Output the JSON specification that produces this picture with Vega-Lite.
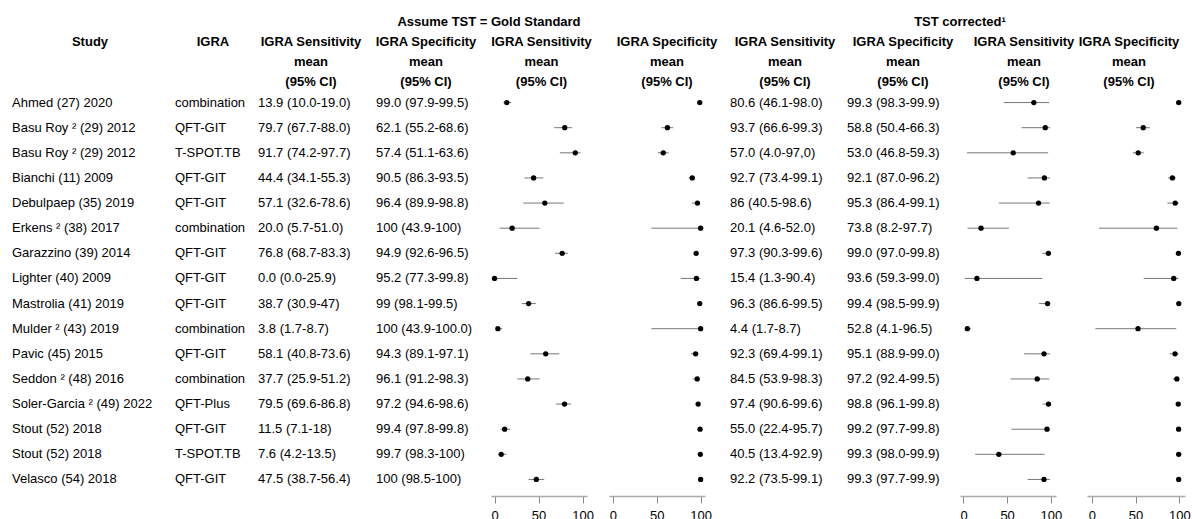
{
  "$schema": "https://vega.github.io/schema/vega-lite/v6.json",
  "background": "white",
  "padding": {"left": 12, "top": 16, "right": 0, "bottom": 0},
  "config": {
    "font": "Liberation Sans",
    "view": {"stroke": null},
    "title": {"fontSize": 13, "fontWeight": "bold", "color": "#000", "lineHeight": 20, "offset": 1, "anchor": "middle", "frame": "group", "font": "Liberation Sans"},
    "text": {"fontSize": 13, "color": "#000", "font": "Liberation Sans"},
    "axis": {"grid": false, "domainColor": "#aaa", "domainWidth": 1.5, "tickColor": "#888", "tickSize": 7, "labelFontSize": 13, "labelColor": "#000", "labelPadding": 6, "labelFlush": false, "labelFont": "Liberation Sans"}
  },
  "data": {"values": [
    {"r": 1, "study": "Ahmed (27) 2020", "igra": "combination", "s1t": "13.9 (10.0-19.0)", "p1t": "99.0 (97.9-99.5)", "s2t": "80.6 (46.1-98.0)", "p2t": "99.3 (98.3-99.9)", "s1": 13.9, "s1l": 10.0, "s1u": 19.0, "p1": 99.0, "p1l": 97.9, "p1u": 99.5, "s2": 80.6, "s2l": 46.1, "s2u": 98.0, "p2": 99.3, "p2l": 98.3, "p2u": 99.9},
    {"r": 2, "study": "Basu Roy ² (29) 2012", "igra": "QFT-GIT", "s1t": "79.7 (67.7-88.0)", "p1t": "62.1 (55.2-68.6)", "s2t": "93.7 (66.6-99.3)", "p2t": "58.8 (50.4-66.3)", "s1": 79.7, "s1l": 67.7, "s1u": 88.0, "p1": 62.1, "p1l": 55.2, "p1u": 68.6, "s2": 93.7, "s2l": 66.6, "s2u": 99.3, "p2": 58.8, "p2l": 50.4, "p2u": 66.3},
    {"r": 3, "study": "Basu Roy ² (29) 2012", "igra": "T-SPOT.TB", "s1t": "91.7 (74.2-97.7)", "p1t": "57.4 (51.1-63.6)", "s2t": "57.0 (4.0-97,0)", "p2t": "53.0 (46.8-59.3)", "s1": 91.7, "s1l": 74.2, "s1u": 97.7, "p1": 57.4, "p1l": 51.1, "p1u": 63.6, "s2": 57.0, "s2l": 4.0, "s2u": 97.0, "p2": 53.0, "p2l": 46.8, "p2u": 59.3},
    {"r": 4, "study": "Bianchi (11) 2009", "igra": "QFT-GIT", "s1t": "44.4 (34.1-55.3)", "p1t": "90.5 (86.3-93.5)", "s2t": "92.7 (73.4-99.1)", "p2t": "92.1 (87.0-96.2)", "s1": 44.4, "s1l": 34.1, "s1u": 55.3, "p1": 90.5, "p1l": 86.3, "p1u": 93.5, "s2": 92.7, "s2l": 73.4, "s2u": 99.1, "p2": 92.1, "p2l": 87.0, "p2u": 96.2},
    {"r": 5, "study": "Debulpaep (35) 2019", "igra": "QFT-GIT", "s1t": "57.1 (32.6-78.6)", "p1t": "96.4 (89.9-98.8)", "s2t": "86 (40.5-98.6)", "p2t": "95.3 (86.4-99.1)", "s1": 57.1, "s1l": 32.6, "s1u": 78.6, "p1": 96.4, "p1l": 89.9, "p1u": 98.8, "s2": 86.0, "s2l": 40.5, "s2u": 98.6, "p2": 95.3, "p2l": 86.4, "p2u": 99.1},
    {"r": 6, "study": "Erkens ² (38) 2017", "igra": "combination", "s1t": "20.0 (5.7-51.0)", "p1t": "100 (43.9-100)", "s2t": "20.1 (4.6-52.0)", "p2t": "73.8 (8.2-97.7)", "s1": 20.0, "s1l": 5.7, "s1u": 51.0, "p1": 100, "p1l": 43.9, "p1u": 100, "s2": 20.1, "s2l": 4.6, "s2u": 52.0, "p2": 73.8, "p2l": 8.2, "p2u": 97.7},
    {"r": 7, "study": "Garazzino (39) 2014", "igra": "QFT-GIT", "s1t": "76.8 (68.7-83.3)", "p1t": "94.9 (92.6-96.5)", "s2t": "97.3 (90.3-99.6)", "p2t": "99.0 (97.0-99.8)", "s1": 76.8, "s1l": 68.7, "s1u": 83.3, "p1": 94.9, "p1l": 92.6, "p1u": 96.5, "s2": 97.3, "s2l": 90.3, "s2u": 99.6, "p2": 99.0, "p2l": 97.0, "p2u": 99.8},
    {"r": 8, "study": "Lighter (40) 2009", "igra": "QFT-GIT", "s1t": "0.0 (0.0-25.9)", "p1t": "95.2 (77.3-99.8)", "s2t": "15.4 (1.3-90.4)", "p2t": "93.6 (59.3-99.0)", "s1": 0.0, "s1l": 0.0, "s1u": 25.9, "p1": 95.2, "p1l": 77.3, "p1u": 99.8, "s2": 15.4, "s2l": 1.3, "s2u": 90.4, "p2": 93.6, "p2l": 59.3, "p2u": 99.0},
    {"r": 9, "study": "Mastrolia (41) 2019", "igra": "QFT-GIT", "s1t": "38.7 (30.9-47)", "p1t": "99 (98.1-99.5)", "s2t": "96.3 (86.6-99.5)", "p2t": "99.4 (98.5-99.9)", "s1": 38.7, "s1l": 30.9, "s1u": 47.0, "p1": 99.0, "p1l": 98.1, "p1u": 99.5, "s2": 96.3, "s2l": 86.6, "s2u": 99.5, "p2": 99.4, "p2l": 98.5, "p2u": 99.9},
    {"r": 10, "study": "Mulder ²  (43) 2019", "igra": "combination", "s1t": "3.8 (1.7-8.7)", "p1t": "100 (43.9-100.0)", "s2t": "4.4 (1.7-8.7)", "p2t": "52.8 (4.1-96.5)", "s1": 3.8, "s1l": 1.7, "s1u": 8.7, "p1": 100, "p1l": 43.9, "p1u": 100, "s2": 4.4, "s2l": 1.7, "s2u": 8.7, "p2": 52.8, "p2l": 4.1, "p2u": 96.5},
    {"r": 11, "study": "Pavic  (45) 2015", "igra": "QFT-GIT", "s1t": "58.1 (40.8-73.6)", "p1t": "94.3 (89.1-97.1)", "s2t": "92.3 (69.4-99.1)", "p2t": "95.1 (88.9-99.0)", "s1": 58.1, "s1l": 40.8, "s1u": 73.6, "p1": 94.3, "p1l": 89.1, "p1u": 97.1, "s2": 92.3, "s2l": 69.4, "s2u": 99.1, "p2": 95.1, "p2l": 88.9, "p2u": 99.0},
    {"r": 12, "study": "Seddon ² (48) 2016", "igra": "combination", "s1t": "37.7 (25.9-51.2)", "p1t": "96.1 (91.2-98.3)", "s2t": "84.5 (53.9-98.3)", "p2t": "97.2 (92.4-99.5)", "s1": 37.7, "s1l": 25.9, "s1u": 51.2, "p1": 96.1, "p1l": 91.2, "p1u": 98.3, "s2": 84.5, "s2l": 53.9, "s2u": 98.3, "p2": 97.2, "p2l": 92.4, "p2u": 99.5},
    {"r": 13, "study": "Soler-Garcia ² (49) 2022", "igra": "QFT-Plus", "s1t": "79.5 (69.6-86.8)", "p1t": "97.2 (94.6-98.6)", "s2t": "97.4 (90.6-99.6)", "p2t": "98.8 (96.1-99.8)", "s1": 79.5, "s1l": 69.6, "s1u": 86.8, "p1": 97.2, "p1l": 94.6, "p1u": 98.6, "s2": 97.4, "s2l": 90.6, "s2u": 99.6, "p2": 98.8, "p2l": 96.1, "p2u": 99.8},
    {"r": 14, "study": "Stout  (52) 2018", "igra": "QFT-GIT", "s1t": "11.5 (7.1-18)", "p1t": "99.4 (97.8-99.8)", "s2t": "55.0 (22.4-95.7)", "p2t": "99.2 (97.7-99.8)", "s1": 11.5, "s1l": 7.1, "s1u": 18.0, "p1": 99.4, "p1l": 97.8, "p1u": 99.8, "s2": 95.7, "s2l": 55.0, "s2u": 99.1, "p2": 99.2, "p2l": 97.7, "p2u": 99.8},
    {"r": 15, "study": "Stout  (52) 2018", "igra": "T-SPOT.TB", "s1t": "7.6 (4.2-13.5)", "p1t": "99.7 (98.3-100)", "s2t": "40.5 (13.4-92.9)", "p2t": "99.3 (98.0-99.9)", "s1": 7.6, "s1l": 4.2, "s1u": 13.5, "p1": 99.7, "p1l": 98.3, "p1u": 100, "s2": 40.5, "s2l": 13.4, "s2u": 92.9, "p2": 99.3, "p2l": 98.0, "p2u": 99.9},
    {"r": 16, "study": "Velasco  (54) 2018", "igra": "QFT-GIT", "s1t": "47.5 (38.7-56.4)", "p1t": "100 (98.5-100)", "s2t": "92.2 (73.5-99.1)", "p2t": "99.3 (97.7-99.9)", "s1": 47.5, "s1l": 38.7, "s1u": 56.4, "p1": 100, "p1l": 98.5, "p1u": 100, "s2": 92.2, "s2l": 73.5, "s2u": 99.1, "p2": 99.3, "p2l": 97.7, "p2u": 99.9}
  ]},
  "spacing": 0,
  "bounds": "flush",
  "hconcat": [
    {"width": 163, "height": 402, "title": {"text": [" ", " ", "Study", " "], "dx": -3.5},
     "mark": {"type": "text", "align": "left", "baseline": "middle"},
     "encoding": {"x": {"value": 0}, "y": {"field": "r", "type": "ordinal", "axis": null, "scale": {"type": "point", "padding": 0.5}}, "text": {"field": "study"}}},
    {"width": 83, "height": 402, "title": {"text": [" ", " ", "IGRA", " "], "dx": -3.5},
     "mark": {"type": "text", "align": "left", "baseline": "middle"},
     "encoding": {"x": {"value": 0}, "y": {"field": "r", "type": "ordinal", "axis": null, "scale": {"type": "point", "padding": 0.5}}, "text": {"field": "igra"}}},
    {"width": 118, "height": 402, "title": {"text": [" ", "IGRA Sensitivity", "mean", "(95% CI)"], "dx": -6},
     "mark": {"type": "text", "align": "left", "baseline": "middle"},
     "encoding": {"x": {"value": 0}, "y": {"field": "r", "type": "ordinal", "axis": null, "scale": {"type": "point", "padding": 0.5}}, "text": {"field": "s1t"}}},
    {"width": 114, "height": 402, "title": {"text": [" ", "IGRA Specificity", "mean", "(95% CI)"], "dx": -7},
     "mark": {"type": "text", "align": "left", "baseline": "middle"},
     "encoding": {"x": {"value": 0}, "y": {"field": "r", "type": "ordinal", "axis": null, "scale": {"type": "point", "padding": 0.5}}, "text": {"field": "p1t"}}},
    {"width": 1, "height": 402, "title": {"text": ["Assume TST = Gold Standard", " ", " ", " "], "dx": -1.5},
     "data": {"values": [{}]}, "mark": {"type": "text"}, "encoding": {"text": {"value": ""}}},
    {"width": 96, "height": 402, "title": {"text": [" ", "IGRA Sensitivity", "mean", "(95% CI)"], "dx": 2.5},
     "encoding": {"y": {"field": "r", "type": "ordinal", "axis": null, "scale": {"type": "point", "padding": 0.5}}},
     "layer": [
       {"mark": {"type": "rule", "color": "#777", "strokeWidth": 1},
        "encoding": {"x": {"field": "s1l", "type": "quantitative", "scale": {"domain": [-4, 105], "nice": false, "zero": false}, "axis": {"values": [0, 50, 100], "title": null, "offset": 4}}, "x2": {"field": "s1u"}}},
       {"mark": {"type": "point", "filled": true, "color": "#000", "size": 28, "opacity": 1},
        "encoding": {"x": {"field": "s1", "type": "quantitative", "scale": {"domain": [-4, 105], "nice": false, "zero": false}, "axis": {"values": [0, 50, 100], "title": null, "offset": 4}}}}
     ]},
    {"width": 22, "height": 402, "data": {"values": [{}]}, "mark": {"type": "text"}, "encoding": {"text": {"value": ""}}},
    {"width": 96, "height": 402, "title": {"text": [" ", "IGRA Specificity", "mean", "(95% CI)"], "dx": 10},
     "encoding": {"y": {"field": "r", "type": "ordinal", "axis": null, "scale": {"type": "point", "padding": 0.5}}},
     "layer": [
       {"mark": {"type": "rule", "color": "#777", "strokeWidth": 1},
        "encoding": {"x": {"field": "p1l", "type": "quantitative", "scale": {"domain": [-4.5, 105], "nice": false, "zero": false}, "axis": {"values": [0, 50, 100], "title": null, "offset": 4}}, "x2": {"field": "p1u"}}},
       {"mark": {"type": "point", "filled": true, "color": "#000", "size": 28, "opacity": 1},
        "encoding": {"x": {"field": "p1", "type": "quantitative", "scale": {"domain": [-4.5, 105], "nice": false, "zero": false}, "axis": {"values": [0, 50, 100], "title": null, "offset": 4}}}}
     ]},
    {"width": 25, "height": 402, "data": {"values": [{}]}, "mark": {"type": "text"}, "encoding": {"text": {"value": ""}}},
    {"width": 117, "height": 402, "title": {"text": [" ", "IGRA Sensitivity", "mean", "(95% CI)"], "dx": -3.5},
     "mark": {"type": "text", "align": "left", "baseline": "middle"},
     "encoding": {"x": {"value": 0}, "y": {"field": "r", "type": "ordinal", "axis": null, "scale": {"type": "point", "padding": 0.5}}, "text": {"field": "s2t"}}},
    {"width": 112, "height": 402, "title": {"text": [" ", "IGRA Specificity", "mean", "(95% CI)"], "dx": 0},
     "mark": {"type": "text", "align": "left", "baseline": "middle"},
     "encoding": {"x": {"value": 0}, "y": {"field": "r", "type": "ordinal", "axis": null, "scale": {"type": "point", "padding": 0.5}}, "text": {"field": "p2t"}}},
    {"width": 1, "height": 402, "title": {"text": ["TST corrected¹", " ", " ", " "], "dx": 0.5},
     "data": {"values": [{}]}, "mark": {"type": "text"}, "encoding": {"text": {"value": ""}}},
    {"width": 96, "height": 402, "title": {"text": [" ", "IGRA Sensitivity", "mean", "(95% CI)"], "dx": 16},
     "encoding": {"y": {"field": "r", "type": "ordinal", "axis": null, "scale": {"type": "point", "padding": 0.5}}},
     "layer": [
       {"mark": {"type": "rule", "color": "#777", "strokeWidth": 1},
        "encoding": {"x": {"field": "s2l", "type": "quantitative", "scale": {"domain": [-4, 106], "nice": false, "zero": false}, "axis": {"values": [0, 50, 100], "title": null, "offset": 4}}, "x2": {"field": "s2u"}}},
       {"mark": {"type": "point", "filled": true, "color": "#000", "size": 28, "opacity": 1},
        "encoding": {"x": {"field": "s2", "type": "quantitative", "scale": {"domain": [-4, 106], "nice": false, "zero": false}, "axis": {"values": [0, 50, 100], "title": null, "offset": 4}}}}
     ]},
    {"width": 31, "height": 402, "data": {"values": [{}]}, "mark": {"type": "text"}, "encoding": {"text": {"value": ""}}},
    {"width": 98, "height": 402, "title": {"text": [" ", "IGRA Specificity", "mean", "(95% CI)"], "dx": -7},
     "encoding": {"y": {"field": "r", "type": "ordinal", "axis": null, "scale": {"type": "point", "padding": 0.5}}},
     "layer": [
       {"mark": {"type": "rule", "color": "#777", "strokeWidth": 1},
        "encoding": {"x": {"field": "p2l", "type": "quantitative", "scale": {"domain": [-5.5, 106.5], "nice": false, "zero": false}, "axis": {"values": [0, 50, 100], "title": null, "offset": 4}}, "x2": {"field": "p2u"}}},
       {"mark": {"type": "point", "filled": true, "color": "#000", "size": 28, "opacity": 1},
        "encoding": {"x": {"field": "p2", "type": "quantitative", "scale": {"domain": [-5.5, 106.5], "nice": false, "zero": false}, "axis": {"values": [0, 50, 100], "title": null, "offset": 4}}}}
     ]}
  ]
}
